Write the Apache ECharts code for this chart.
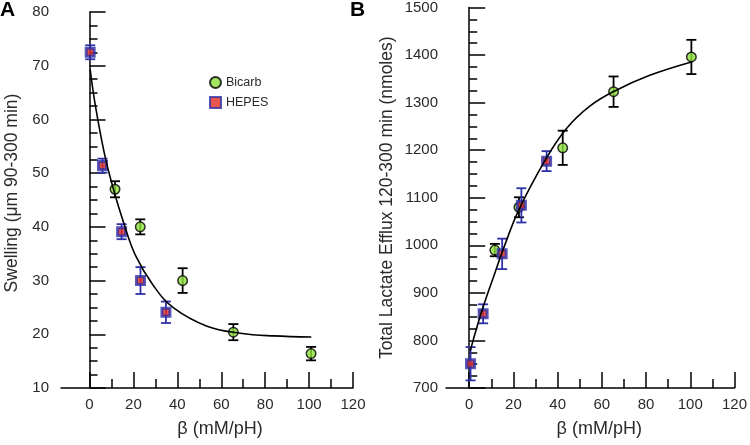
<!DOCTYPE html>
<html>
<head>
<meta charset="utf-8">
<script src="https://cdn.jsdelivr.net/npm/echarts@6/dist/echarts.min.js"></script>
<style>html,body{margin:0;padding:0;background:#fff}#c{width:750px;height:445px}</style>
</head>
<body>
<div id="c"></div>
<script>
// Panel A: swelling
const betaBicarbA = [11.6, 23.1, 42.4, 65.5, 100.9];
const swellBicarb = [47.0, 40.0, 30.0, 20.4, 16.4];
const swellBicarbErr = [1.5, 1.4, 2.3, 1.5, 1.25];
const betaHepesA = [0.3, 5.9, 14.6, 23.2, 34.8];
const swellHepes = [72.5, 51.4, 39.1, 30.0, 24.1];
const swellHepesErr = [1.3, 1.3, 1.4, 2.5, 2.0];
const fitAx = [0.3, 2.6, 6.8, 10.9, 15.5, 20.8, 29.2, 38.3, 53.5, 68.7, 83.8, 101.0];
const fitAy = [69.3, 62.7, 53.6, 47.0, 40.8, 34.8, 29.0, 24.9, 21.5, 20.2, 19.7, 19.5];

// Panel B: lactate efflux
const betaBicarbB = [11.6, 22.5, 42.3, 65.3, 100.5];
const effluxBicarb = [990, 1080, 1205, 1323, 1396];
const effluxBicarbErr = [13, 21, 36, 32, 36];
const betaHepesB = [0.6, 6.3, 14.9, 23.6, 35.0];
const effluxHepes = [751, 856, 982, 1084, 1177];
const effluxHepesErr = [35, 20, 32, 36, 21];
const fitBx = [0.45, 5.7, 11.7, 15.5, 22.3, 34.5, 43.9, 54.4, 65.6, 81.4, 100.9];
const fitBy = [778, 862, 943, 993, 1073, 1180, 1245, 1292, 1324, 1357, 1386];

// Tick labels
const xMajorTicks = [0, 20, 40, 60, 80, 100, 120];
const xMinorTicks = [10, 30, 50, 70, 90, 110];

const FONT = 'Liberation Sans, Arial, sans-serif';
const GREEN = '#8ee03c';
const RED = '#e02a22';
const BLUE = '#2e30a8';
const TXT = '#2a2a2a';

function zip(xs, ys, es) {
  return xs.map((x, i) => es ? [x, ys[i], es[i]] : [x, ys[i]]);
}

function errRender(color) {
  return function (params, api) {
    const x = api.value(0), y = api.value(1), e = api.value(2);
    const t = api.coord([x, y + e]);
    const b = api.coord([x, y - e]);
    const h = 5;
    const st = { stroke: color, lineWidth: 1.8 };
    return {
      type: 'group',
      children: [
        { type: 'line', shape: { x1: t[0], y1: t[1], x2: b[0], y2: b[1] }, style: st },
        { type: 'line', shape: { x1: t[0] - h, y1: t[1], x2: t[0] + h, y2: t[1] }, style: st },
        { type: 'line', shape: { x1: b[0] - h, y1: b[1], x2: b[0] + h, y2: b[1] }, style: st }
      ]
    };
  };
}

function xAxes(gridIndex, min, padLeft) {
  return [
    {
      type: 'value', gridIndex: gridIndex, min: min, max: 120, position: 'bottom',
      name: 'β (mM/pH)', nameLocation: 'middle', nameGap: 32,
      nameTextStyle: { fontFamily: FONT, fontSize: 18, color: TXT, padding: [0, 0, 0, padLeft] },
      axisLine: { show: true, lineStyle: { color: '#000', width: 1.5 } },
      axisTick: { show: true, inside: true, length: 16, customValues: xMajorTicks, lineStyle: { color: '#000', width: 1.5 } },
      axisLabel: { show: true, customValues: xMajorTicks, margin: 9, fontFamily: FONT, fontSize: 15, color: TXT,
        formatter: v => String(v) },
      splitLine: { show: false }
    },
    {
      type: 'value', gridIndex: gridIndex, min: min, max: 120, position: 'bottom',
      axisLine: { show: false },
      axisTick: { show: true, inside: true, length: 9, customValues: xMinorTicks, lineStyle: { color: '#000', width: 1.5 } },
      axisLabel: { show: false },
      splitLine: { show: false }
    }
  ];
}

function yAxis(gridIndex, min, max, interval, name, nameGap, pad, margin) {
  return {
    type: 'value', gridIndex: gridIndex, min: min, max: max, interval: interval,
    name: name, nameLocation: 'middle', nameGap: nameGap,
    nameTextStyle: { fontFamily: FONT, fontSize: 17.5, color: TXT, padding: pad },
    axisLine: { show: true, lineStyle: { color: '#000', width: 1.5 } },
    axisTick: { show: true, inside: true, length: 16, lineStyle: { color: '#000', width: 1.5 } },
    minorTick: { show: true, splitNumber: 4, length: 8, lineStyle: { color: '#000', width: 1.5 } },
    axisLabel: { margin: margin, fontFamily: FONT, fontSize: 15, color: TXT, formatter: v => String(v) },
    splitLine: { show: false }
  };
}

const bicarbStyle = { color: GREEN, borderColor: '#000', borderWidth: 1.5 };
const hepesStyle = { color: RED, borderColor: BLUE, borderWidth: 3 };

const chart = echarts.init(document.getElementById('c'), null, { renderer: 'canvas' });
chart.setOption({
  animation: false,
  backgroundColor: '#fff',
  textStyle: { fontFamily: FONT },
  grid: [
    { left: 61, top: 12, width: 292, height: 376 },
    { left: 446, top: 7, width: 290, height: 381 }
  ],
  legend: {
    data: ['Bicarb', 'HEPES'],
    orient: 'vertical', left: 204, top: 71,
    itemWidth: 11, itemHeight: 11, itemGap: 7,
    textStyle: { fontFamily: FONT, fontSize: 12.5, color: TXT },
    selectedMode: false
  },
  graphic: [
    { type: 'text', left: 0, top: 0, style: { text: 'A', font: 'bold 21px ' + FONT, fill: '#000' } },
    { type: 'text', left: 350, top: 0, style: { text: 'B', font: 'bold 21px ' + FONT, fill: '#000' } }
  ],
  xAxis: xAxes(0, -13, 26).concat(xAxes(1, -10.5, 18)),
  yAxis: [
    yAxis(0, 10, 80, 10, 'Swelling (μm 90-300 min)', 40, [0, 0, 0, 14], 12),
    yAxis(1, 700, 1500, 100, 'Total Lactate Efflux 120-300 min (nmoles)', 50, 0, 8)
  ],
  series: [
    // Panel A
    { type: 'custom', name: 'errBicarbA', xAxisIndex: 0, yAxisIndex: 0, renderItem: errRender('#000'),
      data: zip(betaBicarbA, swellBicarb, swellBicarbErr), encode: { x: 0, y: 1 }, z: 2 },
    { type: 'scatter', name: 'Bicarb', xAxisIndex: 0, yAxisIndex: 0, symbol: 'circle', symbolSize: 9.5,
      itemStyle: bicarbStyle, data: zip(betaBicarbA, swellBicarb), z: 3 },
    { type: 'custom', name: 'errHepesA', xAxisIndex: 0, yAxisIndex: 0, renderItem: errRender(BLUE),
      data: zip(betaHepesA, swellHepes, swellHepesErr), encode: { x: 0, y: 1 }, z: 4 },
    { type: 'scatter', name: 'HEPES', xAxisIndex: 0, yAxisIndex: 0, symbol: 'rect', symbolSize: 8,
      itemStyle: hepesStyle, data: zip(betaHepesA, swellHepes), z: 5 },
    { type: 'line', name: 'fitA', xAxisIndex: 0, yAxisIndex: 0, data: zip(fitAx, fitAy), smooth: 0.4,
      showSymbol: false, symbol: 'none', lineStyle: { color: '#000', width: 1.6 }, z: 6 },
    // Panel B
    { type: 'custom', name: 'errBicarbB', xAxisIndex: 2, yAxisIndex: 1, renderItem: errRender('#000'),
      data: zip(betaBicarbB, effluxBicarb, effluxBicarbErr), encode: { x: 0, y: 1 }, z: 2 },
    { type: 'scatter', name: 'Bicarb', xAxisIndex: 2, yAxisIndex: 1, symbol: 'circle', symbolSize: 9.5,
      itemStyle: bicarbStyle, data: zip(betaBicarbB, effluxBicarb), z: 3 },
    { type: 'custom', name: 'errHepesB', xAxisIndex: 2, yAxisIndex: 1, renderItem: errRender(BLUE),
      data: zip(betaHepesB, effluxHepes, effluxHepesErr), encode: { x: 0, y: 1 }, z: 4 },
    { type: 'scatter', name: 'HEPES', xAxisIndex: 2, yAxisIndex: 1, symbol: 'rect', symbolSize: 8,
      itemStyle: hepesStyle, data: zip(betaHepesB, effluxHepes), z: 5 },
    { type: 'line', name: 'fitB', xAxisIndex: 2, yAxisIndex: 1, data: zip(fitBx, fitBy), smooth: 0.4,
      showSymbol: false, symbol: 'none', lineStyle: { color: '#000', width: 1.6 }, z: 6 }
  ]
});
</script>
</body>
</html>
